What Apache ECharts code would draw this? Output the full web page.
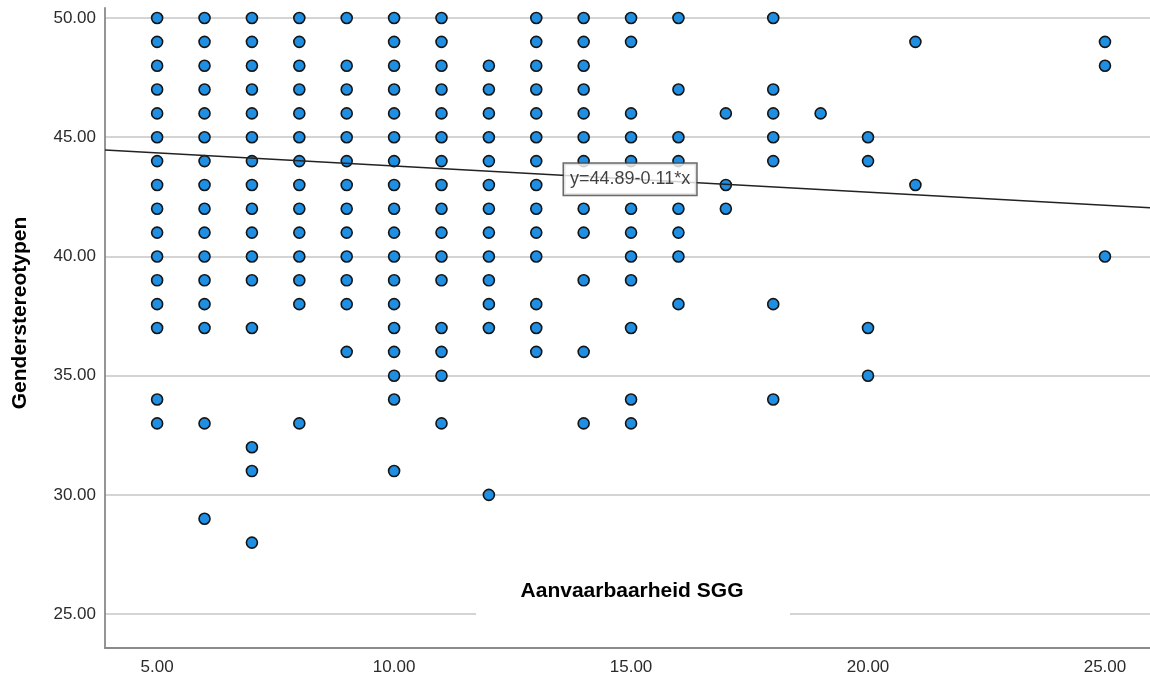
<!DOCTYPE html>
<html>
<head>
<meta charset="utf-8">
<script src="https://cdn.jsdelivr.net/npm/echarts@6/dist/echarts.min.js"></script>
<style>
  html, body { margin: 0; padding: 0; background: #fff; }
  #chart { width: 1150px; height: 676px; }
</style>
</head>
<body>
<div id="chart"></div>
<script>
// Aanvaarbaarheid SGG levels (x) and the Genderstereotypen scores (y) observed at each level
const sggLevels = [5, 6, 7, 8, 9, 10, 11, 12, 13, 14, 15, 16, 17, 18, 19, 20, 21, 25];
const stereotypeScores = [
  [50, 49, 48, 47, 46, 45, 44, 43, 42, 41, 40, 39, 38, 37, 34, 33],
  [50, 49, 48, 47, 46, 45, 44, 43, 42, 41, 40, 39, 38, 37, 33, 29],
  [50, 49, 48, 47, 46, 45, 44, 43, 42, 41, 40, 39, 37, 32, 31, 28],
  [50, 49, 48, 47, 46, 45, 44, 43, 42, 41, 40, 39, 38, 33],
  [50, 48, 47, 46, 45, 44, 43, 42, 41, 40, 39, 38, 36],
  [50, 49, 48, 47, 46, 45, 44, 43, 42, 41, 40, 39, 38, 37, 36, 35, 34, 31],
  [50, 49, 48, 47, 46, 45, 44, 43, 42, 41, 40, 39, 37, 36, 35, 33],
  [48, 47, 46, 45, 44, 43, 42, 41, 40, 39, 38, 37, 30],
  [50, 49, 48, 47, 46, 45, 44, 43, 42, 41, 40, 38, 37, 36],
  [50, 49, 48, 47, 46, 45, 44, 42, 41, 39, 36, 33],
  [50, 49, 46, 45, 44, 42, 41, 40, 39, 37, 34, 33],
  [50, 47, 45, 44, 42, 41, 40, 38],
  [46, 43, 42],
  [50, 47, 46, 45, 44, 38, 34],
  [46],
  [45, 44, 37, 35],
  [49, 43],
  [49, 48, 40]
];
// Fit line end points and its equation label
const fitLine = [[3.9, 44.46], [25.95, 42.04]];
const fitLabelText = 'y=44.89-0.11*x';
const fitLabelAt = [[14.98, 43.24]];
const xTitle = 'Aanvaarbaarheid SGG';
const yTitle = 'Genderstereotypen';

const points = [];
sggLevels.forEach((x, i) => stereotypeScores[i].forEach(y => points.push([x, y])));

const FONT = "'Liberation Sans', Arial, sans-serif";
const chart = echarts.init(document.getElementById('chart'), null, { renderer: 'canvas' });
chart.setOption({
  animation: false,
  backgroundColor: '#ffffff',
  grid: { left: 105, right: 0, top: 8, bottom: 27, containLabel: false },
  xAxis: {
    type: 'value', min: 3.9, max: 25.95, splitNumber: 5,
    axisLine: { show: true, lineStyle: { color: '#8a8a8a', width: 1.8 } },
    axisTick: { show: false },
    splitLine: { show: false },
    axisLabel: {
      formatter: v => v.toFixed(2), showMinLabel: false, showMaxLabel: false,
      margin: 11, fontSize: 17, color: '#2b2b2b', fontFamily: FONT
    }
  },
  yAxis: {
    type: 'value', min: 23.58, max: 50.42, splitNumber: 5,
    axisLine: { show: true, lineStyle: { color: '#8a8a8a', width: 1.8 } },
    axisTick: { show: false },
    splitLine: { show: true, showMinLine: false, showMaxLine: false, lineStyle: { color: '#c6c6c6', width: 1.5 } },
    axisLabel: {
      formatter: v => v.toFixed(2), showMinLabel: false, showMaxLabel: false,
      margin: 9, fontSize: 17, color: '#2b2b2b', fontFamily: FONT
    }
  },
  graphic: [
    { type: 'rect', z: 100, shape: { x: 476, y: 572, width: 314, height: 58 }, style: { fill: '#ffffff' } },
    { type: 'text', z: 101, x: 632, y: 591,
      style: { text: xTitle, font: "bold 21px 'Liberation Sans', Arial, sans-serif", fill: '#000', textAlign: 'center', textVerticalAlign: 'middle' } },
    { type: 'text', z: 101, x: 20, y: 313, rotation: Math.PI / 2,
      style: { text: yTitle, font: "bold 21px 'Liberation Sans', Arial, sans-serif", fill: '#000', textAlign: 'center', textVerticalAlign: 'middle' } }
  ],
  series: [
    {
      type: 'scatter', z: 2, data: points, symbol: 'circle', symbolSize: 11,
      itemStyle: { color: '#1f8fe3', borderColor: '#151515', borderWidth: 1.6, opacity: 1 },
      silent: true
    },
    {
      type: 'line', z: 4, data: fitLine, symbol: 'none', silent: true,
      lineStyle: { color: '#222', width: 1.5 }
    },
    {
      type: 'scatter', z: 6, data: fitLabelAt, symbol: 'circle', symbolSize: 1, silent: true,
      itemStyle: { color: 'rgba(0,0,0,0)' },
      label: {
        show: true, position: 'inside', formatter: fitLabelText,
        fontSize: 18, fontFamily: FONT, color: '#111', lineHeight: 20,
        backgroundColor: '#ffffff', borderColor: '#444', borderWidth: 1.5,
        padding: [6, 6, 5, 6]
      }
    }
  ]
});
</script>
</body>
</html>
